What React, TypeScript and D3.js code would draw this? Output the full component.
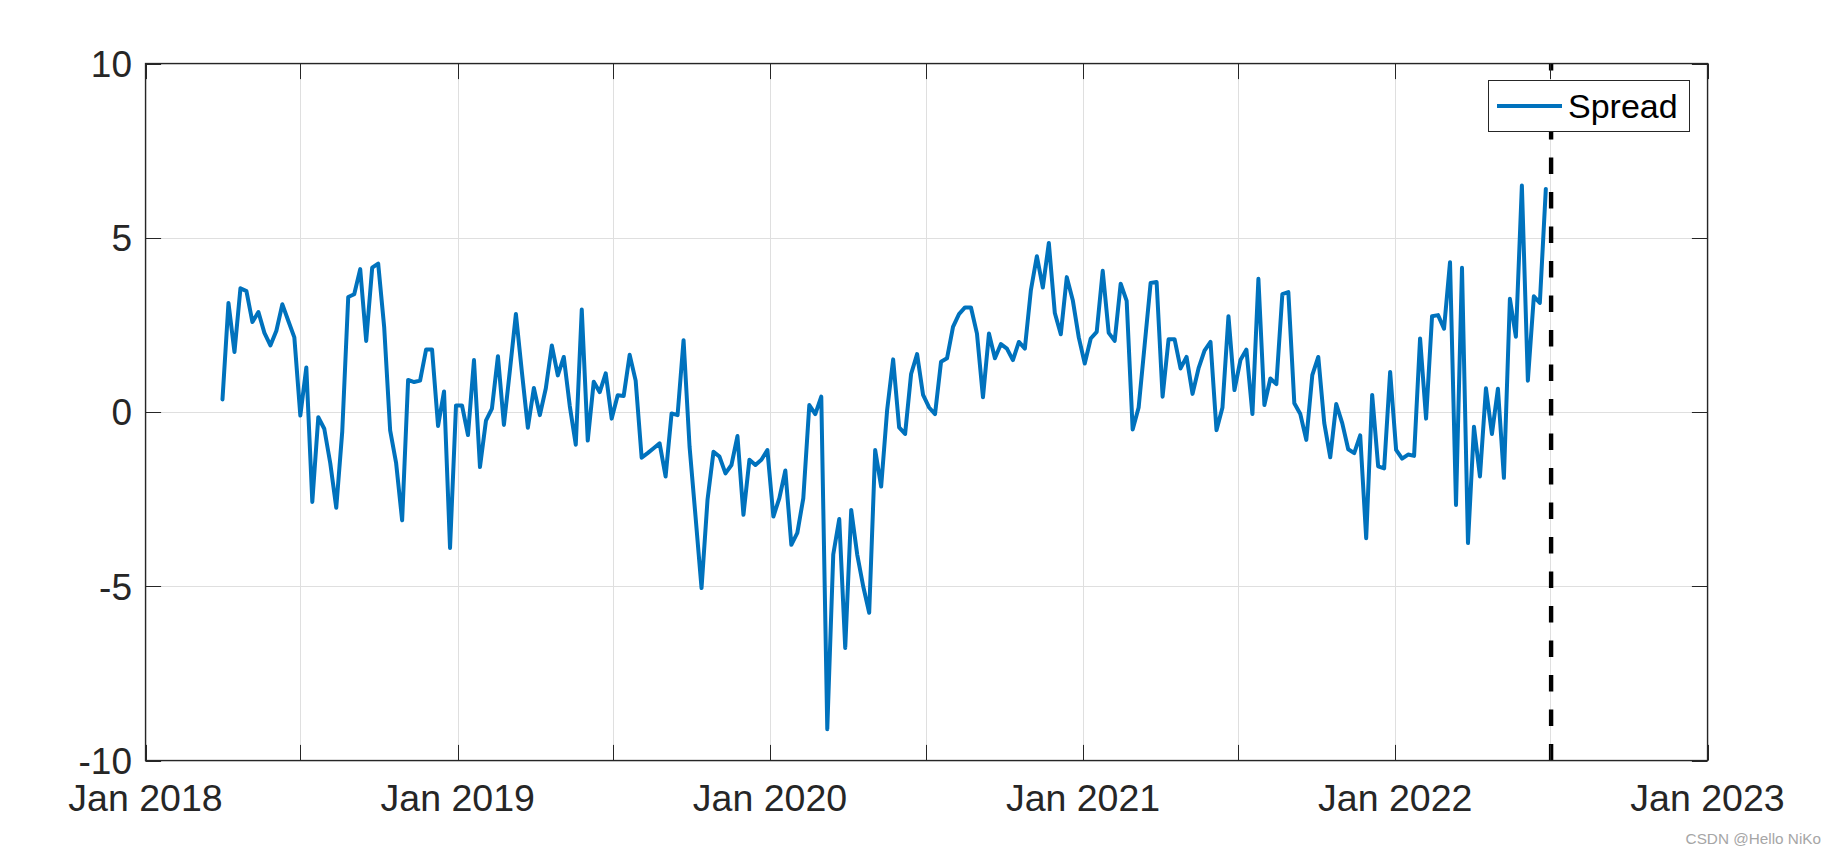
import React from "react";
import * as d3 from "d3";

// ---- data ----
const seriesName = "Spread";
const startDate = Date.UTC(2018, 3, 1); // first weekly observation
const spreadValues: number[] = [
  0.36, 3.13, 1.72, 3.55, 3.47, 2.58, 2.87, 2.27, 1.91, 2.33,
  3.09, 2.61, 2.14, -0.10, 1.28, -2.58, -0.15, -0.48, -1.47, -2.75,
  -0.56, 3.30, 3.38, 4.10, 2.04, 4.14, 4.26, 2.44, -0.53, -1.47,
  -3.11, 0.92, 0.86, 0.90, 1.79, 1.79, -0.40,
  0.59, -3.90, 0.19, 0.19, -0.66, 1.49, -1.58, -0.25, 0.10, 1.60,
  -0.37, 1.20, 2.81, 1.15, -0.45, 0.69, -0.09, 0.68, 1.91, 1.05,
  1.58, 0.17, -0.94, 2.94, -0.82, 0.87, 0.57, 1.11, -0.19, 0.48,
  0.46, 1.64, 0.90, -1.31, -1.18, -1.04, -0.90,
  -1.85, -0.04, -0.09, 2.06, -0.99, -3.0, -5.05, -2.52, -1.14, -1.28,
  -1.76, -1.52, -0.69, -2.95, -1.37, -1.52, -1.37, -1.09, -3.0, -2.47,
  -1.68, -3.81, -3.47, -2.47, 0.20, -0.06, 0.44, -9.10, -4.09, -3.07,
  -6.77, -2.81, -4.09, -5.0, -5.76, -1.09,
  -2.14, 0.06, 1.51, -0.44, -0.63, 1.09, 1.66, 0.49, 0.13, -0.06,
  1.44, 1.54, 2.44, 2.81, 3.0, 3.0, 2.25, 0.42, 2.25, 1.54,
  1.95, 1.82, 1.49, 2.01, 1.82, 3.49, 4.47, 3.57, 4.85, 2.84,
  2.23, 3.87, 3.21, 2.14, 1.39, 2.11, 2.30,
  4.05, 2.27, 2.04, 3.68, 3.19, -0.50, 0.13, 1.92, 3.70, 3.73,
  0.44, 2.09, 2.09, 1.25, 1.58, 0.52, 1.25, 1.76, 2.01, -0.52,
  0.13, 2.75, 0.63, 1.49, 1.79, -0.06, 3.82, 0.20, 0.96, 0.80,
  3.38, 3.44, 0.25, -0.06, -0.80, 1.06, 1.58,
  -0.32, -1.30, 0.23, -0.32, -1.07, -1.18, -0.67, -3.62, 0.49, -1.56,
  -1.62, 1.15, -1.09, -1.34, -1.22, -1.26, 2.11, -0.19, 2.75, 2.78,
  2.39, 4.30, -2.67, 4.14, -3.76, -0.42, -1.85, 0.68, -0.63, 0.67,
  -1.89, 3.25, 2.16, 6.50, 0.90, 3.32, 3.13, 6.40,
];
const yTicks = [-10, -5, 0, 5, 10];
const xLabelTicks = [2018, 2019, 2020, 2021, 2022, 2023];
const xLabels = ["Jan 2018", "Jan 2019", "Jan 2020", "Jan 2021", "Jan 2022", "Jan 2023"];
const xMinorYears = [2018, 2019, 2020, 2021, 2022]; // July gridlines
const cutoffDate = Date.UTC(2022, 6, 1);
const watermark = "CSDN @Hello NiKo";

const W = 1834;
const H = 852;
const L = 145.5, R = 1707.5, T = 63.5, B = 760.5;
const FONT = "'Liberation Sans', Arial, Helvetica, sans-serif";
const AX = "#262626";
const BLUE = "#0072BD";

export default function App() {
  const x = d3.scaleUtc().domain([new Date(Date.UTC(2018, 0, 1)), new Date(Date.UTC(2023, 0, 1))]).range([L, R]);
  const y = d3.scaleLinear().domain([-10, 10]).range([B, T]);
  const pts = spreadValues.map((v, i) => ({ d: d3.utcDay.offset(new Date(startDate), i * 7), v }));
  const line = d3.line<{ d: Date; v: number }>().x((p) => x(p.d)).y((p) => y(p.v));
  const majorX = xLabelTicks.map((yr) => new Date(Date.UTC(yr, 0, 1)));
  const minorX = xMinorYears.map((yr) => new Date(Date.UTC(yr, 6, 1)));
  const allX = [...majorX, ...minorX];
  const TL = 15.6;
  const cx = x(new Date(cutoffDate)) + 1;

  return (
    <svg width={W} height={H} style={{ position: "absolute", left: 0, top: 0, background: "#fff" }} fontFamily={FONT}>
      <rect x={0} y={0} width={W} height={H} fill="#fff" />
      {/* grid */}
      {allX.map((d, i) => (
        <line key={"gx" + i} x1={Math.round(x(d)) + 0.5} x2={Math.round(x(d)) + 0.5} y1={T} y2={B} stroke="#dfdfdf" strokeWidth={1} />
      ))}
      {yTicks.map((t) => (
        <line key={"gy" + t} x1={L} x2={R} y1={Math.round(y(t)) + 0.5} y2={Math.round(y(t)) + 0.5} stroke="#dfdfdf" strokeWidth={1} />
      ))}
      {/* series */}
      <path d={line(pts) || ""} fill="none" stroke={BLUE} strokeWidth={4} strokeLinejoin="round" strokeLinecap="round" />
      {/* cutoff dashed line */}
      <line x1={cx} x2={cx} y1={B} y2={T} stroke="#000" strokeWidth={4.4} strokeDasharray="16.5 18" />
      {/* ticks */}
      {allX.map((d, i) => {
        const xx = Math.round(x(d)) + 0.5;
        return (
          <g key={"tx" + i}>
            <line x1={xx} x2={xx} y1={B} y2={B - TL} stroke={AX} strokeWidth={1} />
            <line x1={xx} x2={xx} y1={T} y2={T + TL} stroke={AX} strokeWidth={1} />
          </g>
        );
      })}
      {yTicks.map((t) => {
        const yy = Math.round(y(t)) + 0.5;
        return (
          <g key={"ty" + t}>
            <line x1={L} x2={L + TL} y1={yy} y2={yy} stroke={AX} strokeWidth={1} />
            <line x1={R} x2={R - TL} y1={yy} y2={yy} stroke={AX} strokeWidth={1} />
          </g>
        );
      })}
      {/* axes box */}
      <rect x={L} y={T} width={R - L} height={B - T} fill="none" stroke={AX} strokeWidth={1.3} />
      {/* tick labels */}
      {yTicks.map((t) => (
        <text key={"ly" + t} x={132} y={y(t)} dy="0.36em" textAnchor="end" fontSize={37} fill={AX}>
          {t}
        </text>
      ))}
      {majorX.map((d, i) => (
        <text key={"lx" + i} x={x(d)} y={811} textAnchor="middle" fontSize={37.5} fill={AX}>
          {xLabels[i]}
        </text>
      ))}
      {/* legend */}
      <rect x={1488.5} y={80.5} width={201} height={51} fill="#fff" stroke={AX} strokeWidth={1} />
      <line x1={1497} x2={1562} y1={106} y2={106} stroke={BLUE} strokeWidth={4} />
      <text x={1568} y={118} fontSize={34} fill="#000">
        {seriesName}
      </text>
      {/* watermark */}
      <text x={1821} y={844} textAnchor="end" fontSize={15.3} fill="#a6a6a6">
        {watermark}
      </text>
    </svg>
  );
}
